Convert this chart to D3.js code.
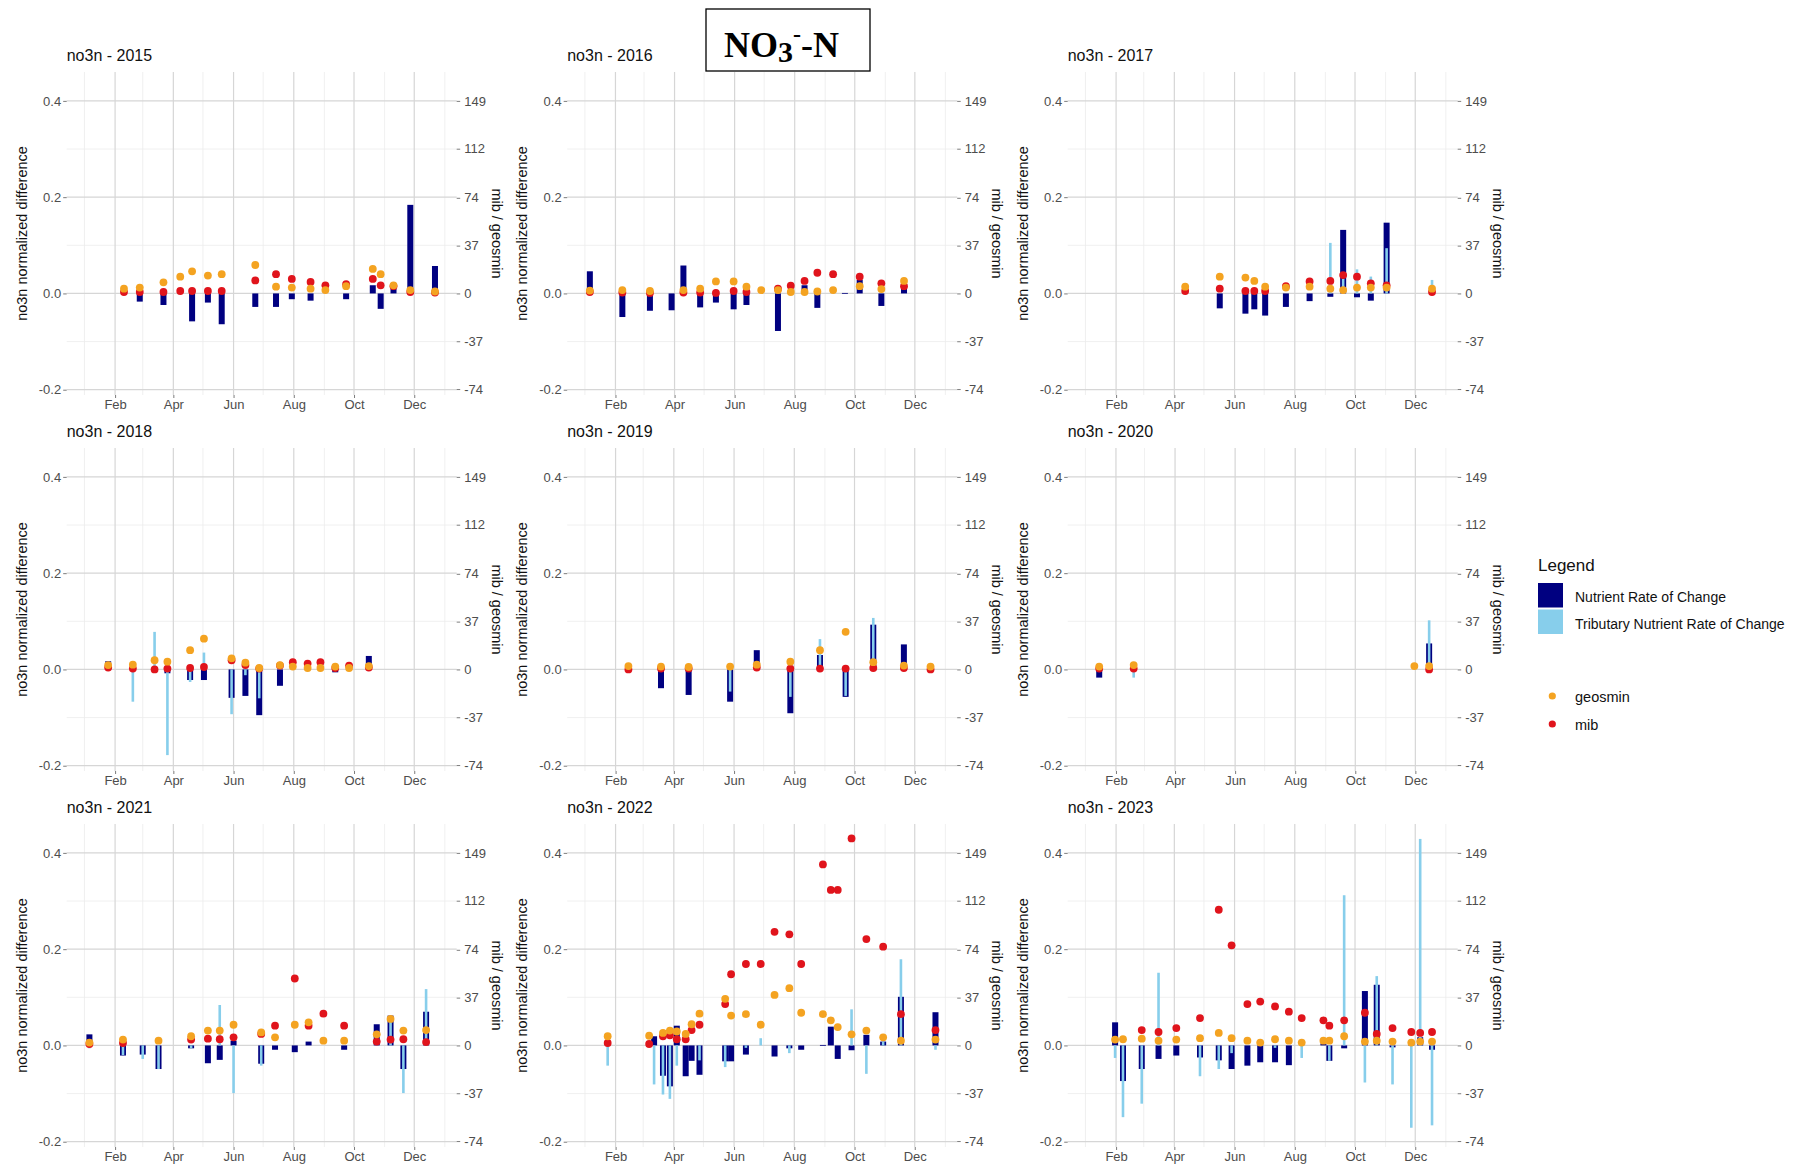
<!DOCTYPE html>
<html>
<head>
<meta charset="utf-8">
<script src="https://cdn.jsdelivr.net/npm/d3@7"></script>
<style>
  body { margin: 0; background: #fff; }
  svg text { font-family: "Liberation Sans", Arial, sans-serif; }
  svg text.heading { font-family: "Liberation Serif", "Times New Roman", serif; font-weight: bold; }
</style>
</head>
<body>
<svg id="chart" width="1794" height="1165"></svg>
<script>
// ---- Data: nitrate (no3n) normalized rate of change, tributary rate of change,
// ---- and geosmin / MIB concentrations (ng/L) per sampling date, by year.
const years = [2015, 2016, 2017, 2018, 2019, 2020, 2021, 2022, 2023];

const dates2015 = ["2015-02-10","2015-02-26","2015-03-22","2015-04-08","2015-04-20","2015-05-06","2015-05-20","2015-06-23","2015-07-14","2015-07-30","2015-08-18","2015-09-02","2015-09-23","2015-10-20","2015-10-28","2015-11-10","2015-11-27","2015-12-22"];
const nutrient2015 = [null,-0.017,-0.024,null,-0.058,-0.019,-0.064,-0.028,-0.028,-0.012,-0.015,null,-0.012,0.017,-0.032,0.010,0.184,0.057];
const tributary2015 = [null,null,null,null,null,null,null,null,null,null,null,null,null,null,null,null,null,null];
const geosmin2015 = [3.7,4.5,8.6,13.0,17.1,13.8,14.9,22.0,5.2,4.5,3.7,2.6,5.6,19.0,14.9,6.3,2.6,1.5];
const mib2015 = [1.1,1.1,1.1,1.9,1.9,1.9,1.9,10.1,14.9,11.2,8.9,6.3,7.1,11.2,6.3,5.6,1.1,0.7];

const dates2016 = ["2016-01-06","2016-02-08","2016-03-07","2016-03-29","2016-04-10","2016-04-27","2016-05-13","2016-05-31","2016-06-13","2016-06-28","2016-07-15","2016-07-28","2016-08-11","2016-08-24","2016-09-09","2016-09-21","2016-10-06","2016-10-28","2016-11-20"];
const nutrient2016 = [0.046,-0.049,-0.036,-0.035,0.058,-0.029,-0.019,-0.033,-0.024,null,-0.078,null,0.017,-0.030,null,0.001,0.028,-0.026,0.014];
const tributary2016 = [null,null,null,null,null,null,null,null,null,null,null,null,null,null,null,null,null,null,null];
const geosmin2016 = [2.2,2.6,1.9,null,2.6,3.7,9.3,9.3,5.2,2.6,2.6,1.1,1.1,1.5,2.6,null,5.6,3.4,9.7];
const mib2016 = [1.1,0.7,0.4,null,0.7,0.7,0.4,1.9,1.1,null,3.7,6.0,9.7,16.0,14.9,null,13.0,7.8,5.6];

const dates2017 = ["2017-04-12","2017-05-17","2017-06-12","2017-06-21","2017-07-02","2017-07-23","2017-08-16","2017-09-06","2017-09-19","2017-10-03","2017-10-17","2017-11-02","2017-12-18"];
const nutrient2017 = [null,-0.031,-0.042,-0.033,-0.046,-0.028,-0.016,-0.007,0.132,-0.008,-0.015,0.147,null];
const tributary2017 = [null,null,null,null,null,null,null,0.105,0.030,0.050,0.035,0.094,0.028];
const geosmin2017 = [5.2,13.0,12.3,9.7,5.2,4.5,5.2,3.7,2.6,4.5,4.5,4.5,3.7];
const mib2017 = [1.9,3.7,1.9,1.9,1.9,5.6,9.3,9.7,14.2,13.0,7.8,6.3,1.1];

const dates2018 = ["2018-01-25","2018-02-19","2018-03-13","2018-03-26","2018-04-18","2018-05-02","2018-05-30","2018-06-13","2018-06-27","2018-07-18","2018-07-31","2018-08-15","2018-08-28","2018-09-12","2018-09-26","2018-10-16"];
const nutrient2018 = [0.017,null,null,-0.008,-0.022,-0.022,-0.059,-0.055,-0.095,-0.034,null,null,null,-0.006,null,0.028];
const tributary2018 = [null,-0.067,0.078,-0.178,-0.026,0.035,-0.093,-0.012,-0.060,null,null,null,null,null,null,null];
const geosmin2018 = [3.4,3.7,7.1,6.0,14.9,23.8,8.6,5.2,1.1,3.4,2.2,1.1,1.1,2.2,1.1,2.6];
const mib2018 = [1.5,0.7,0.0,0.7,1.1,1.9,7.1,3.4,0.7,3.0,5.6,4.5,5.6,1.1,3.0,1.5];

const dates2019 = ["2019-02-14","2019-03-19","2019-04-16","2019-05-28","2019-06-24","2019-07-28","2019-08-27","2019-09-22","2019-10-20","2019-11-20","2019-12-17"];
const nutrient2019 = [null,-0.039,-0.053,-0.067,0.040,-0.091,0.030,-0.057,0.093,0.052,null];
const tributary2019 = [null,null,null,-0.046,null,-0.057,0.063,-0.055,0.107,null,null];
const geosmin2019 = [2.6,2.2,1.9,2.2,3.7,6.0,14.9,29.1,5.6,3.0,2.2];
const mib2019 = [0.0,0.7,0.7,null,1.5,0.7,0.7,0.7,1.1,1.1,0.0];

const dates2020 = ["2020-01-15","2020-02-19","2020-11-30","2020-12-15"];
const nutrient2020 = [-0.017,null,null,0.054];
const tributary2020 = [null,-0.017,null,0.102];
const geosmin2020 = [2.2,3.4,2.6,2.6];
const mib2020 = [0.7,0.7,null,0.0];

const dates2021 = ["2021-01-06","2021-02-09","2021-03-01","2021-03-17","2021-04-19","2021-05-06","2021-05-18","2021-06-01","2021-06-29","2021-07-13","2021-08-02","2021-08-16","2021-08-31","2021-09-21","2021-10-24","2021-11-07","2021-11-20","2021-12-13"];
const nutrient2021 = [0.023,-0.021,-0.019,-0.049,-0.006,-0.037,-0.030,0.010,-0.038,-0.009,-0.014,0.008,null,-0.009,0.044,0.062,-0.049,0.070];
const tributary2021 = [-0.006,-0.020,-0.028,-0.049,-0.006,null,0.084,-0.099,-0.042,null,null,null,null,null,null,0.060,-0.099,0.117];
const geosmin2021 = [2.2,4.5,null,3.7,7.1,11.5,11.5,16.0,10.1,6.3,16.0,17.9,3.7,3.7,8.6,20.5,11.5,11.9];
const mib2021 = [1.1,1.9,null,null,4.5,5.2,4.8,6.3,8.9,15.3,51.8,15.3,24.6,15.3,3.0,4.5,4.8,2.6];

const dates2022 = ["2022-01-24","2022-03-07","2022-03-12","2022-03-21","2022-03-28","2022-04-04","2022-04-13","2022-04-19","2022-04-27","2022-05-23","2022-05-29","2022-06-13","2022-06-28","2022-07-12","2022-07-27","2022-08-08","2022-08-30","2022-09-07","2022-09-14","2022-09-28","2022-10-13","2022-10-30","2022-11-17","2022-12-22"];
const nutrient2022 = [null,null,0.019,-0.063,-0.085,0.041,-0.064,-0.032,-0.061,-0.033,-0.033,-0.019,null,-0.023,-0.006,-0.009,0.001,0.039,-0.028,-0.010,0.022,0.008,0.101,0.069];
const tributary2022 = [-0.042,null,-0.081,-0.102,-0.111,-0.042,null,null,-0.031,-0.045,null,-0.005,0.015,null,-0.016,null,null,null,null,0.075,-0.059,0.008,0.179,-0.009];
const geosmin2022 = [7.1,7.5,null,9.7,11.5,10.8,8.9,16.4,24.6,36.1,23.1,24.2,16.0,39.1,44.3,25.3,24.2,19.4,14.2,8.6,11.5,6.3,3.7,4.5];
const mib2022 = [1.9,1.1,null,7.1,7.8,4.8,4.8,11.9,16.0,32.0,55.1,63.0,63.0,87.9,86.0,63.0,140.1,120.3,120.3,160.2,82.3,76.4,24.2,11.9];

const dates2023 = ["2023-01-31","2023-02-08","2023-02-27","2023-03-16","2023-04-03","2023-04-27","2023-05-16","2023-05-29","2023-06-14","2023-06-27","2023-07-12","2023-07-26","2023-08-08","2023-08-30","2023-09-05","2023-09-20","2023-10-11","2023-10-23","2023-11-08","2023-11-27","2023-12-06","2023-12-18"];
const nutrient2023 = [0.048,-0.074,-0.049,-0.028,-0.021,-0.025,-0.031,-0.049,-0.042,-0.035,-0.035,-0.041,null,0.004,-0.032,-0.006,0.113,0.126,-0.004,0.004,0.017,-0.009];
const tributary2023 = [-0.026,-0.149,-0.121,0.151,null,-0.064,-0.049,-0.016,null,null,-0.005,null,-0.026,null,-0.032,0.312,-0.077,0.144,-0.081,-0.171,0.429,-0.166];
const geosmin2023 = [4.5,4.8,5.2,3.7,4.5,5.6,9.7,5.6,3.7,2.2,4.8,3.7,2.2,3.7,3.7,7.1,3.0,3.7,3.0,2.2,3.0,3.0];
const mib2023 = [null,null,11.9,10.4,13.4,21.2,105.0,77.5,32.0,33.9,30.2,26.1,21.2,19.4,15.3,19.4,25.3,8.9,13.4,10.4,9.7,10.4];

// Axis ticks and labels
const yTicks = [-0.2, 0.0, 0.2, 0.4];
const yMinorTicks = [-0.1, 0.1, 0.3];
const secTickLabels = [149, 112, 74, 37, 0, -37, -74];
const secFactor = 372.5;          // mib/geosmin units per unit of normalized difference
const monthTickLabels = ["Feb", "Apr", "Jun", "Aug", "Oct", "Dec"];
const legendBarLabels = ["Nutrient Rate of Change", "Tributary Nutrient Rate of Change"];
const legendPointLabels = ["geosmin", "mib"];

// ---- Table assembled from the arrays above
const seriesByYear = [
  {year: 2015, dates: dates2015, nutrient: nutrient2015, tributary: tributary2015, geosmin: geosmin2015, mib: mib2015},
  {year: 2016, dates: dates2016, nutrient: nutrient2016, tributary: tributary2016, geosmin: geosmin2016, mib: mib2016},
  {year: 2017, dates: dates2017, nutrient: nutrient2017, tributary: tributary2017, geosmin: geosmin2017, mib: mib2017},
  {year: 2018, dates: dates2018, nutrient: nutrient2018, tributary: tributary2018, geosmin: geosmin2018, mib: mib2018},
  {year: 2019, dates: dates2019, nutrient: nutrient2019, tributary: tributary2019, geosmin: geosmin2019, mib: mib2019},
  {year: 2020, dates: dates2020, nutrient: nutrient2020, tributary: tributary2020, geosmin: geosmin2020, mib: mib2020},
  {year: 2021, dates: dates2021, nutrient: nutrient2021, tributary: tributary2021, geosmin: geosmin2021, mib: mib2021},
  {year: 2022, dates: dates2022, nutrient: nutrient2022, tributary: tributary2022, geosmin: geosmin2022, mib: mib2022},
  {year: 2023, dates: dates2023, nutrient: nutrient2023, tributary: tributary2023, geosmin: geosmin2023, mib: mib2023}
];

// ---- Layout and style
const colors = {nutrient: "#000080", tributary: "#87ceeb", geosmin: "#f4a321", mib: "#e0141c"};
const panelW = 390, panelH = 323;
const colLeft = [66.7, 567.2, 1067.7];
const rowTop = [72, 448, 824];
const yDomain = [-0.211, 0.46];
const parseDate = d3.timeParse("%Y-%m-%d");

const svg = d3.select("#chart");
svg.append("rect").attr("width", 1794).attr("height", 1165).attr("fill", "#fff");

function styleAxis(g) {
  g.select(".domain").remove();
  g.selectAll(".tick line").attr("stroke", "#5a5a5a").attr("stroke-width", 0.8);
  g.selectAll(".tick text").attr("fill", "#4d4d4d").attr("font-size", 13);
}

seriesByYear.forEach((s, i) => {
  const col = i % 3, row = Math.floor(i / 3);
  const L = colLeft[col], T = rowTop[row];
  const g = svg.append("g").attr("transform", `translate(${L},${T})`);

  const x = d3.scaleTime()
    .domain([d3.timeDay.offset(new Date(s.year, 0, 1), -18), d3.timeDay.offset(new Date(s.year + 1, 0, 1), 12)])
    .range([0, panelW]);
  const y = d3.scaleLinear().domain(yDomain).range([panelH, 0]);
  const y2 = d3.scaleLinear().domain(yDomain.map(v => v * secFactor)).range([panelH, 0]);

  const majorDates = [1, 3, 5, 7, 9, 11].map(m => new Date(s.year, m, 1));
  const minorDates = [0, 2, 4, 6, 8, 10, 12].map(m => new Date(s.year, m, 1));

  // grid
  const grid = g.append("g");
  grid.selectAll(".vminor").data(minorDates).join("line")
    .attr("x1", d => x(d)).attr("x2", d => x(d)).attr("y1", 0).attr("y2", panelH)
    .attr("stroke", "#ececec").attr("stroke-width", 0.8);
  grid.selectAll(".hminor").data(yMinorTicks).join("line")
    .attr("x1", 0).attr("x2", panelW).attr("y1", d => y(d)).attr("y2", d => y(d))
    .attr("stroke", "#ececec").attr("stroke-width", 0.8);
  grid.selectAll(".vmajor").data(majorDates).join("line")
    .attr("x1", d => x(d)).attr("x2", d => x(d)).attr("y1", 0).attr("y2", panelH)
    .attr("stroke", "#d6d6d6").attr("stroke-width", 1.2);
  grid.selectAll(".hmajor").data(yTicks).join("line")
    .attr("x1", 0).attr("x2", panelW).attr("y1", d => y(d)).attr("y2", d => y(d))
    .attr("stroke", "#d6d6d6").attr("stroke-width", 1.2);

  const rows = s.dates.map((d, k) => ({
    date: parseDate(d), nutrient: s.nutrient[k], tributary: s.tributary[k],
    geosmin: s.geosmin[k], mib: s.mib[k]
  }));

  // bars: lake nutrient (wide, navy) under tributary nutrient (narrow, sky blue)
  const navyW = 6, skyW = 2.6;
  g.append("g").selectAll("rect").data(rows.filter(r => r.nutrient !== null)).join("rect")
    .attr("x", r => x(r.date) - navyW / 2).attr("width", navyW)
    .attr("y", r => Math.min(y(r.nutrient), y(0)))
    .attr("height", r => Math.max(0.8, Math.abs(y(r.nutrient) - y(0))))
    .attr("fill", colors.nutrient);
  g.append("g").selectAll("rect").data(rows.filter(r => r.tributary !== null)).join("rect")
    .attr("x", r => x(r.date) - skyW / 2).attr("width", skyW)
    .attr("y", r => Math.min(y(r.tributary), y(0)))
    .attr("height", r => Math.max(0.8, Math.abs(y(r.tributary) - y(0))))
    .attr("fill", colors.tributary);

  // points on the secondary (mib / geosmin) scale
  g.append("g").selectAll("circle").data(rows.filter(r => r.mib !== null)).join("circle")
    .attr("cx", r => x(r.date)).attr("cy", r => y2(r.mib)).attr("r", 3.9)
    .attr("fill", colors.mib);
  g.append("g").selectAll("circle").data(rows.filter(r => r.geosmin !== null)).join("circle")
    .attr("cx", r => x(r.date)).attr("cy", r => y2(r.geosmin)).attr("r", 3.9)
    .attr("fill", colors.geosmin);

  // axes
  g.append("g")
    .call(d3.axisLeft(y).tickValues(yTicks).tickFormat(d => d.toFixed(1)).tickSize(3.5).tickPadding(2))
    .call(styleAxis);
  g.append("g").attr("transform", `translate(${panelW},0)`)
    .call(d3.axisRight(y2).tickValues(secTickLabels).tickFormat(d => String(d)).tickSize(3.5).tickPadding(4))
    .call(styleAxis);
  g.append("g").attr("transform", `translate(0,${panelH})`)
    .call(d3.axisBottom(x).tickValues(majorDates).tickFormat((d, k) => monthTickLabels[k]).tickSize(3).tickPadding(2))
    .call(styleAxis);

  // titles
  g.append("text").attr("x", 0).attr("y", -11).attr("font-size", 16).attr("fill", "#111")
    .text(`no3n - ${s.year}`);
  g.append("text").attr("transform", `translate(${-45},${panelH / 2}) rotate(-90)`)
    .attr("text-anchor", "middle").attr("dy", "0.35em").attr("font-size", 14.5).attr("fill", "#111")
    .text("no3n normalized difference");
  g.append("text").attr("transform", `translate(${panelW + 40},${panelH / 2}) rotate(90)`)
    .attr("text-anchor", "middle").attr("dy", "0.35em").attr("font-size", 14.5).attr("fill", "#111")
    .text("mib / geosmin");
});

// ---- Heading box
const head = svg.append("g");
head.append("rect").attr("x", 706).attr("y", 9).attr("width", 164).attr("height", 62)
  .attr("fill", "#fff").attr("stroke", "#000").attr("stroke-width", 1.3);
const ht = head.append("text").attr("class", "heading").attr("x", 724).attr("y", 57)
  .attr("font-size", 36).attr("fill", "#000");
ht.append("tspan").text("NO");
ht.append("tspan").attr("font-size", 30).attr("dy", 5).text("3");
ht.append("tspan").attr("font-size", 24).attr("dy", -20).text("-");
ht.append("tspan").attr("font-size", 36).attr("dy", 15).text("-N");

// ---- Legend
const lg = svg.append("g");
lg.append("text").attr("x", 1538).attr("y", 571).attr("font-size", 17).attr("fill", "#111").text("Legend");
const barKeys = [colors.nutrient, colors.tributary];
barKeys.forEach((c, k) => {
  lg.append("rect").attr("x", 1538).attr("y", 583 + k * 26.5).attr("width", 25).attr("height", 24.5).attr("fill", c);
  lg.append("text").attr("x", 1575).attr("y", 597 + k * 27).attr("dy", "0.35em")
    .attr("font-size", 14).attr("fill", "#111").text(legendBarLabels[k]);
});
const pointKeys = [colors.geosmin, colors.mib];
pointKeys.forEach((c, k) => {
  lg.append("circle").attr("cx", 1552.3).attr("cy", 696 + k * 28).attr("r", 3.6).attr("fill", c);
  lg.append("text").attr("x", 1575).attr("y", 697 + k * 28).attr("dy", "0.35em")
    .attr("font-size", 14.5).attr("fill", "#111").text(legendPointLabels[k]);
});
</script>
</body>
</html>
